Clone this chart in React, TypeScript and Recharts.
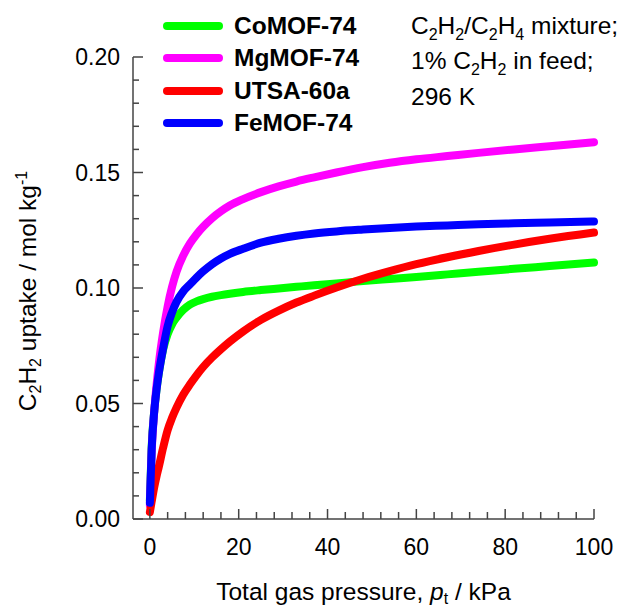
import { LineChart, Line, XAxis, YAxis } from 'recharts';

// pressure grid (kPa) shared by all curves
const pressure = [0, 0.4, 1, 1.5, 2, 3, 4, 5, 6, 7.5, 9, 10.5, 12, 14, 16, 18, 21, 25, 29, 33, 37, 42, 48, 54, 60, 67, 74, 82, 90, 100];

// C2H2 uptake, mol/kg
const coMOF = [0.008, 0.031, 0.047, 0.056, 0.063, 0.0735, 0.08, 0.0843, 0.0872, 0.0905, 0.0928, 0.0942, 0.0952, 0.0962, 0.0969, 0.0975, 0.0983, 0.0991, 0.0998, 0.1005, 0.1012, 0.102, 0.103, 0.1039, 0.1048, 0.1059, 0.107, 0.1083, 0.1095, 0.111];
const mgMOF = [0.006, 0.029, 0.047, 0.058, 0.067, 0.081, 0.092, 0.1005, 0.107, 0.114, 0.1192, 0.1232, 0.1265, 0.1302, 0.1332, 0.1357, 0.1385, 0.1415, 0.144, 0.1461, 0.1479, 0.15, 0.1523, 0.1542, 0.1557, 0.1571, 0.1585, 0.16, 0.1614, 0.1631];
const utsa = [0.003, 0.0075, 0.014, 0.0185, 0.0225, 0.031, 0.0385, 0.0438, 0.0482, 0.0538, 0.0582, 0.0622, 0.0658, 0.0699, 0.0735, 0.0768, 0.0812, 0.0862, 0.0902, 0.0937, 0.0967, 0.1002, 0.104, 0.1073, 0.1103, 0.1133, 0.116, 0.1188, 0.1213, 0.124];
const feMOF = [0.007, 0.03, 0.047, 0.056, 0.063, 0.074, 0.0835, 0.0895, 0.094, 0.0985, 0.1015, 0.1045, 0.1072, 0.1103, 0.1128, 0.1148, 0.117, 0.1196, 0.1213, 0.1226, 0.1236, 0.1245, 0.1253, 0.126, 0.1266, 0.1271, 0.1276, 0.128, 0.1284, 0.1288];

const seriesNames = ['CoMOF-74', 'MgMOF-74', 'UTSA-60a', 'FeMOF-74'];
const seriesColors = ['#00ff00', '#ff00ff', '#ff0000', '#0000ff'];
const seriesValues = [coMOF, mgMOF, utsa, feMOF];

const xTicks = [0, 4, 8, 12, 16, 20, 24, 28, 32, 36, 40, 44, 48, 52, 56, 60, 64, 68, 72, 76, 80, 84, 88, 92, 96, 100];
const xMajor = [0, 20, 40, 60, 80, 100];
const yTicks = [0, 0.01, 0.02, 0.03, 0.04, 0.05, 0.06, 0.07, 0.08, 0.09, 0.1, 0.11, 0.12, 0.13, 0.14, 0.15, 0.16, 0.17, 0.18, 0.19, 0.2];
const yMajor = [0, 0.05, 0.1, 0.15, 0.2];

const data = pressure.map((p, i) => {
  const row: Record<string, number> = { p };
  seriesNames.forEach((n, k) => (row[n] = seriesValues[k][i]));
  return row;
});

const FONT = '"Liberation Sans", Arial, sans-serif';
const AXIS = '#444';
const FS = 23; // tick labels
const LFS = 24.5; // titles, legend, notes
const SUB = 16;

const isIn = (arr: number[], v: number) => arr.some(a => Math.abs(a - v) < 1e-9);

const XTick = (props: any) => {
  const { x, y, payload } = props;
  const major = isIn(xMajor, payload.value);
  const base = y - 28;
  return (
    <g>
      <line x1={x} x2={x} y1={base} y2={base - (major ? 10 : 7)} stroke={AXIS} strokeWidth={1.5} />
      {major && (
        <text x={x} y={y} textAnchor="middle" dy="0.36em" fontSize={FS} fontFamily={FONT} fill="#000">
          {payload.value}
        </text>
      )}
    </g>
  );
};

const YTick = (props: any) => {
  const { x, y, payload } = props;
  const major = isIn(yMajor, payload.value);
  const base = x + 13;
  return (
    <g>
      <line x1={base} x2={base + (major ? 10 : 6)} y1={y} y2={y} stroke={AXIS} strokeWidth={1.5} />
      {major && (
        <text x={x} y={y} textAnchor="end" dy="0.36em" fontSize={FS} fontFamily={FONT} fill="#000">
          {payload.value.toFixed(2)}
        </text>
      )}
    </g>
  );
};

const XLabel = (props: any) => {
  const vb = props.viewBox;
  const cx = vb.x + vb.width / 2;
  return (
    <text x={cx} y={600} textAnchor="middle" fontSize={LFS} fontFamily={FONT} fill="#000">
      Total gas pressure, <tspan fontStyle="italic">p</tspan>
      <tspan fontSize={SUB} dy={4}>t</tspan>
      <tspan dy={-4}> / kPa</tspan>
    </text>
  );
};

const YLabel = (props: any) => {
  const vb = props.viewBox;
  const cx = 36;
  const cy = vb.y + vb.height / 2 + 3;
  return (
    <text x={cx} y={cy} transform={`rotate(-90, ${cx}, ${cy})`} textAnchor="middle" fontSize={LFS} fontFamily={FONT} fill="#000">
      C<tspan fontSize={SUB} dy={5}>2</tspan>
      <tspan dy={-5}>H</tspan>
      <tspan fontSize={SUB} dy={5}>2</tspan>
      <tspan dy={-5}> uptake / mol kg</tspan>
      <tspan fontSize={SUB} dy={-9}>-1</tspan>
    </text>
  );
};

const sub = (t: string) => (
  <span style={{ fontSize: SUB, position: 'relative', top: 6 }}>{t}</span>
);

export default function App() {
  const rowTop = (i: number) => 26 + i * 32.3;
  return (
    <div style={{ position: 'absolute', left: 0, top: 0, width: 619, height: 610, background: '#fff', fontFamily: FONT }}>
      <LineChart width={619} height={610} data={data} margin={{ top: 57, right: 25, bottom: 51, left: 0 }}>
        <XAxis
          dataKey="p"
          type="number"
          domain={[-3.8, 100]}
          ticks={xTicks}
          interval={0}
          height={40}
          tickSize={0}
          tickMargin={28}
          tickLine={false}
          axisLine={{ stroke: AXIS, strokeWidth: 1.5 }}
          tick={<XTick />}
          label={XLabel}
        />
        <YAxis
          type="number"
          domain={[0, 0.2]}
          ticks={yTicks}
          interval={0}
          width={133}
          tickSize={0}
          tickMargin={13}
          tickLine={false}
          axisLine={{ stroke: AXIS, strokeWidth: 1.5 }}
          tick={<YTick />}
          label={YLabel}
        />
        {seriesNames.map((n, k) => (
          <Line
            key={n}
            dataKey={n}
            type="monotone"
            stroke={seriesColors[k]}
            strokeWidth={8}
            strokeLinecap="round"
            dot={false}
            activeDot={false}
            isAnimationActive={false}
          />
        ))}
      </LineChart>

      {/* legend */}
      {seriesNames.map((n, k) => (
        <div key={n} style={{ position: 'absolute', left: 163, top: rowTop(k) - 16, height: 32, display: 'flex', alignItems: 'center' }}>
          <div style={{ width: 60, height: 8, borderRadius: 4, background: seriesColors[k] }} />
          <span style={{ marginLeft: 11, fontWeight: 'bold', fontSize: LFS, color: '#000' }}>{n}</span>
        </div>
      ))}

      {/* conditions */}
      <div style={{ position: 'absolute', left: 411, top: rowTop(0) - 16, fontSize: LFS, lineHeight: '32.3px', color: '#000', whiteSpace: 'nowrap' }}>
        <div>C{sub('2')}H{sub('2')}/C{sub('2')}H{sub('4')} mixture;</div>
        <div>1% C{sub('2')}H{sub('2')} in feed;</div>
        <div>296 K</div>
      </div>
    </div>
  );
}
